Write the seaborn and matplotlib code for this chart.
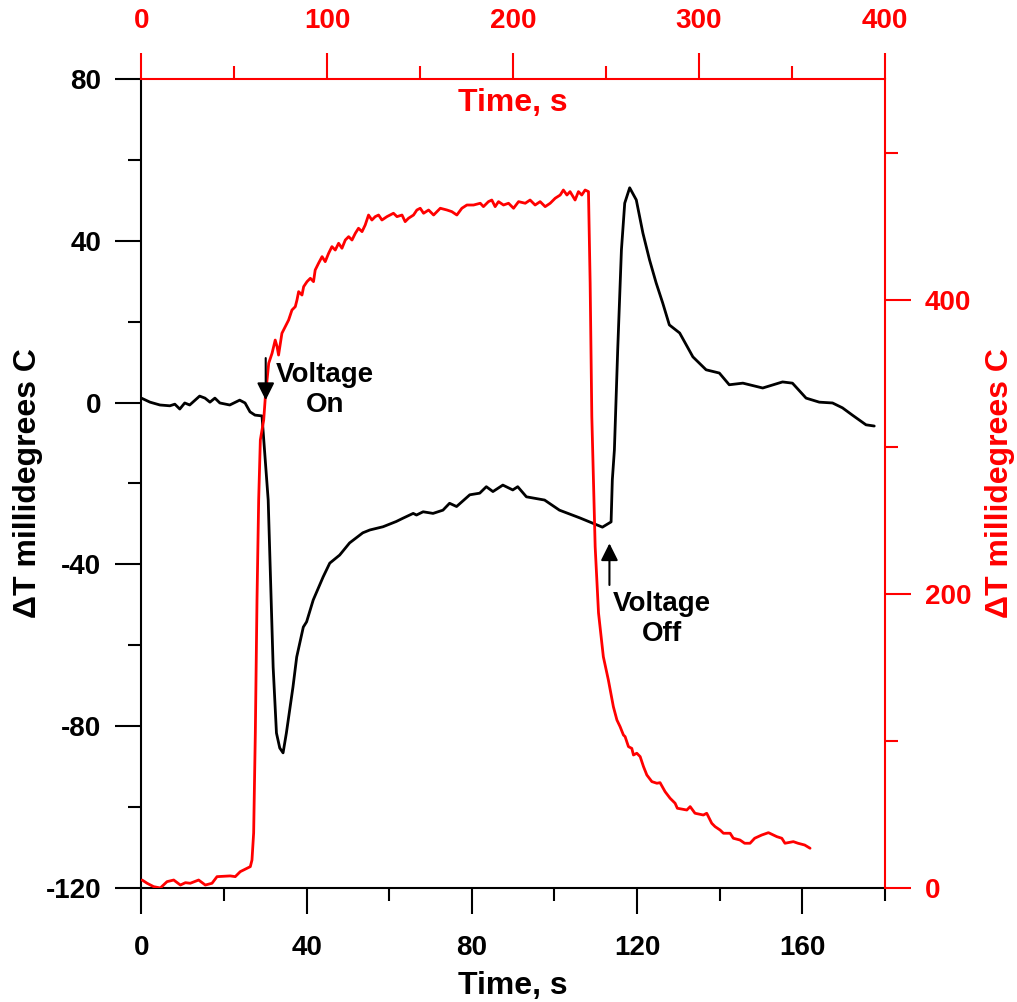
import matplotlib
matplotlib.use('Agg')
import matplotlib.pyplot as plt
import seaborn as sns
from matplotlib.ticker import MultipleLocator

# Black trace: bottom time axis (s) vs left dT axis (millidegrees C)
black_time = [0.0, 2.1, 4.5, 6.9, 8.1, 9.3, 10.5, 11.7, 14.1, 15.4, 16.6, 17.8, 19.0,
              21.4, 23.8, 25.1, 26.3, 27.5, 29.2, 30.7, 31.9, 32.7, 33.5, 34.3, 35.1,
              35.9, 36.7, 37.6, 39.2, 40.0, 41.6, 44.0, 45.6, 48.0, 50.4, 53.6, 55.3,
              58.5, 61.7, 63.3, 65.8, 66.6, 68.2, 70.6, 73.0, 74.6, 76.3, 79.5, 81.9,
              83.5, 85.1, 87.5, 89.9, 91.1, 93.2, 97.6, 101.2,
              106.1, 109.2, 111.6, 113.7, 114.0, 114.5, 115.3, 116.2, 117.0, 118.2,
              119.8, 121.4, 123.0, 124.6, 126.2, 127.8, 130.3, 133.5, 136.7, 139.9,
              142.3, 145.6, 150.4, 155.2, 157.6, 160.9, 164.1, 167.3, 169.7, 172.1,
              175.4, 177.4]
black_dT = [1.1, 0.1, -0.6, -0.8, -0.4, -1.6, -0.1, -0.6, 1.6, 1.1, 0.1, 1.1, -0.1,
            -0.6, 0.6, -0.1, -2.3, -3.1, -3.3, -24.1, -65.4, -81.7, -85.4, -86.6, -81.7,
            -76.0, -70.3, -62.9, -55.5, -54.2, -48.8, -43.1, -39.7, -37.7, -34.7, -32.2,
            -31.5, -30.7, -29.4, -28.6, -27.4, -27.8, -27.0, -27.4, -26.6, -24.9, -25.7,
            -22.8, -22.4, -20.8, -22.0, -20.4, -21.6, -20.8, -23.3, -24.1, -26.6,
            -28.5, -29.8, -30.8, -29.5, -19.1, -11.7, 13.0, 37.7, 49.3,
            53.1, 50.1, 41.9, 35.3, 29.6, 24.6, 19.2, 17.2, 11.3, 8.1, 7.3, 4.4, 4.8,
            3.6, 5.1, 4.8, 1.1, 0.1, -0.1, -1.3, -3.1, -5.5, -5.8]

# Red trace: top time axis (s) vs right dT axis (millidegrees C)
red_time = [0.4, 3.1, 6.6, 10.2, 13.8, 17.4, 21.0, 23.7, 26.3, 30.8, 34.4, 38.0, 40.7,
            47.8, 50.5, 53.2, 56.8, 58.6, 59.5, 60.4, 61.3, 62.2, 63.1, 64.0, 65.8, 66.7,
            68.5, 70.3, 72.0, 73.0, 73.8, 75.6, 77.4, 79.2, 81.0, 82.8, 83.7, 84.6, 86.4,
            87.3, 89.1, 90.9, 92.6, 93.5, 95.3, 97.2, 98.9, 100.7, 102.5, 104.3, 106.1,
            107.9, 109.7, 111.5, 113.3, 115.1, 116.8, 118.7, 120.4, 122.2, 124.0, 125.8,
            127.6, 129.4, 132.1, 135.6, 137.5, 140.2, 141.9, 143.7, 146.4, 148.2, 150.0,
            151.8, 154.5, 157.2, 160.8, 164.4, 167.0, 169.7, 172.4, 175.1, 178.7, 182.3,
            184.0, 186.7, 188.5, 190.3, 192.1, 194.8, 197.5, 200.2, 202.9, 206.5, 209.1,
            211.8, 214.5, 217.2, 219.9, 222.6, 225.3, 227.0, 228.9, 230.6, 233.3, 235.1,
            236.9, 238.7, 240.5,
            241.4, 242.3, 243.2, 244.1, 245.9, 248.5, 251.2, 253.9, 255.8,
            257.5, 259.3, 260.2, 262.0, 263.8, 264.7, 266.5, 268.3, 270.1, 271.9, 274.6,
            277.3, 279.0, 281.7, 284.4, 287.1, 288.3, 293.4, 295.2, 297.8, 302.3, 304.1,
            306.8, 308.6, 311.3, 313.1, 316.7, 318.4, 322.0, 324.5, 327.4, 329.9, 333.7,
            337.3, 341.8, 344.5, 346.2, 350.7, 353.2, 356.8, 359.7]
red_dT = [5.4, 3.2, 0.9, 0.0, 4.3, 5.4, 2.0, 3.6, 3.2, 5.4, 2.0, 3.2, 7.7,
          8.2, 7.7, 11.1, 13.4, 14.5, 19.0, 37.4, 105.4, 195.8, 263.8, 304.6, 318.1, 334.0,
          356.7, 363.5, 372.5, 368.0, 362.3, 377.1, 381.6, 386.1, 392.9, 395.2, 399.7,
          405.4, 403.1, 408.8, 412.2, 414.5, 412.2, 420.1, 424.7, 429.2, 425.8, 431.4,
          436.0, 433.7, 438.3, 434.9, 440.5, 442.8, 440.5, 445.1, 448.5, 446.2, 450.7,
          457.5, 454.1, 456.4, 457.5, 454.1, 456.4, 458.7, 456.4, 457.5, 453.0, 455.3,
          457.5, 460.9, 462.1, 458.7, 460.9, 457.5, 462.1, 460.9, 459.8, 457.5, 462.1,
          464.3, 464.3, 465.5, 463.2, 466.6, 467.7, 463.2, 466.6, 464.3, 465.5, 462.1,
          466.6, 465.5, 467.7, 464.3, 466.6, 463.2, 465.5, 468.9, 471.1, 474.5, 471.1,
          473.4, 467.7, 473.4, 471.1, 474.5, 473.4,
          411.3, 320.4, 277.4, 232.0, 187.0, 157.2, 141.4, 123.2, 114.2,
          109.7, 104.0, 102.9, 96.1, 94.9, 90.4, 91.6, 89.3, 82.5, 76.8, 72.3,
          71.2, 71.6, 65.5, 61.0, 57.6, 54.2, 53.0, 55.3, 50.8, 49.6, 50.8,
          44.0, 41.7, 39.4, 37.2, 37.2, 33.8, 32.6, 30.4, 30.4, 33.8, 36.0,
          37.6, 34.9, 33.8, 30.4, 31.5, 30.4, 29.2, 27.0]

sns.set_style('ticks')
plt.rcParams['font.family'] = ['Liberation Sans', 'DejaVu Sans']
plt.rcParams['font.weight'] = 'bold'
plt.rcParams['axes.labelweight'] = 'bold'
plt.rcParams['axes.unicode_minus'] = False

fig = plt.figure(figsize=(10.17, 10.02), dpi=100)
pos = [0.139, 0.1138, 0.7312, 0.8074]
ax = fig.add_axes(pos, label='main')
ax2 = fig.add_axes(pos, label='red')
ax2.patch.set_visible(False)

sns.lineplot(x=black_time, y=black_dT, ax=ax, color='black', lw=2.0,
             sort=False, estimator=None)
sns.lineplot(x=red_time, y=red_dT, ax=ax2, color='red', lw=2.0,
             sort=False, estimator=None)

ax.set_xlim(0, 180)
ax.set_ylim(-120, 80)
ax2.set_xlim(0, 400)
ax2.set_ylim(0, 550)

ax.xaxis.set_major_locator(MultipleLocator(40))
ax.xaxis.set_minor_locator(MultipleLocator(20))
ax.yaxis.set_major_locator(MultipleLocator(40))
ax.yaxis.set_minor_locator(MultipleLocator(20))
ax2.xaxis.set_major_locator(MultipleLocator(100))
ax2.xaxis.set_minor_locator(MultipleLocator(50))
ax2.yaxis.set_major_locator(MultipleLocator(200))
ax2.yaxis.set_minor_locator(MultipleLocator(100))

ax2.xaxis.tick_top()
ax2.yaxis.tick_right()
ax2.xaxis.set_label_position('top')
ax2.yaxis.set_label_position('right')

for s in ['top', 'right']:
    ax.spines[s].set_visible(False)
for s in ['left', 'bottom']:
    ax2.spines[s].set_visible(False)
for s in ['left', 'bottom']:
    ax.spines[s].set_color('black')
    ax.spines[s].set_linewidth(1.5)
for s in ['top', 'right']:
    ax2.spines[s].set_color('red')
    ax2.spines[s].set_linewidth(1.5)

ax.tick_params(which='major', length=19, width=1.5, color='black',
               labelsize=20, labelcolor='black', direction='out')
ax.tick_params(which='minor', length=9.5, width=1.5, color='black', direction='out')
ax.tick_params(axis='x', which='major', pad=15)
ax.tick_params(axis='y', which='major', pad=10)

ax2.tick_params(which='major', length=19, width=1.5, color='red',
                labelsize=20, labelcolor='red', direction='out')
ax2.tick_params(which='minor', length=9.5, width=1.5, color='red', direction='out')
ax2.tick_params(axis='x', which='major', pad=13.5)
ax2.tick_params(axis='y', which='major', pad=9.5)

ax.set_xlabel('Time, s', fontsize=23, fontweight='bold', color='black')
ax.xaxis.set_label_coords(0.5, -0.1025)
ax.set_ylabel('\u0394T millidegrees C', fontsize=23, fontweight='bold', color='black')
ax.yaxis.set_label_coords(-0.132, 0.5)

ax2.set_xlabel('Time, s', fontsize=23, fontweight='bold', color='red')
ax2.xaxis.set_label_coords(0.5, 0.9604)
ax2.xaxis.label.set_verticalalignment('baseline')
ax2.set_ylabel('\u0394T millidegrees C', fontsize=23, fontweight='bold', color='red')
ax2.yaxis.set_label_coords(1.134, 0.5)

arrow = dict(arrowstyle='-|>', color='black', lw=1.5, mutation_scale=26,
             shrinkA=0, shrinkB=0)
ax2.annotate('', xy=(30.1, 0.6), xytext=(30.1, 11.0),
             xycoords=ax.transData, textcoords=ax.transData, arrowprops=arrow)
ax2.annotate('', xy=(113.3, -34.8), xytext=(113.3, -45.1),
             xycoords=ax.transData, textcoords=ax.transData, arrowprops=arrow)
ax.text(44.4, 3.1, 'Voltage\nOn', ha='center', va='center', multialignment='center',
        fontsize=20, fontweight='bold', color='black', linespacing=1.2)
ax.text(126.1, -53.5, 'Voltage\nOff', ha='center', va='center', multialignment='center',
        fontsize=20, fontweight='bold', color='black', linespacing=1.2)

fig.savefig('out.png', dpi=100)
